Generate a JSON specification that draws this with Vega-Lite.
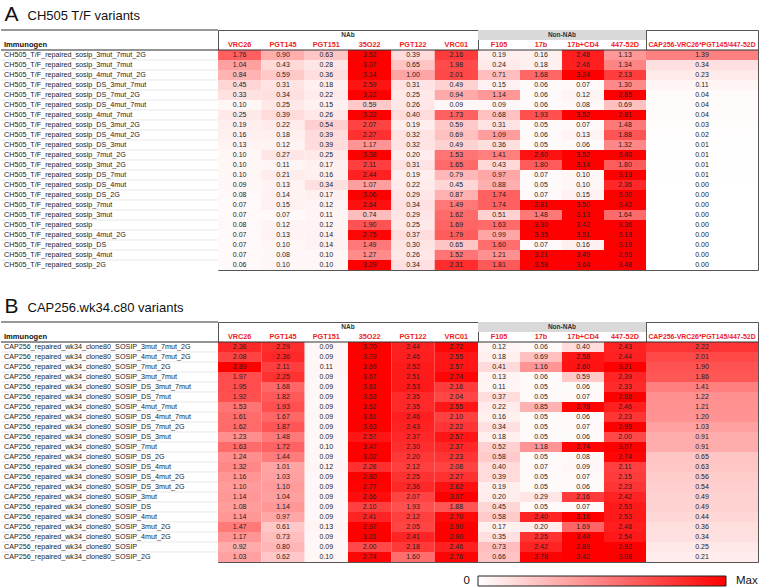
{
"$schema": "https://vega.github.io/schema/vega-lite/v6.json",
"padding": {"top": 3, "left": 0, "right": 0, "bottom": 0},
"config": {"font": "Liberation Sans", "view": {"stroke": "#555555", "strokeWidth": 1}},
"spacing": 24,
"datasets": {
"A": [
{"im":"CH505_T/F_repaired_sosip_3mut_7mut_2G","ab":"VRC26","v":1.76},{"im":"CH505_T/F_repaired_sosip_3mut_7mut_2G","ab":"PGT145","v":0.90},{"im":"CH505_T/F_repaired_sosip_3mut_7mut_2G","ab":"PGT151","v":0.63},{"im":"CH505_T/F_repaired_sosip_3mut_7mut_2G","ab":"35O22","v":3.52},{"im":"CH505_T/F_repaired_sosip_3mut_7mut_2G","ab":"PGT122","v":0.39},{"im":"CH505_T/F_repaired_sosip_3mut_7mut_2G","ab":"VRC01","v":2.16},{"im":"CH505_T/F_repaired_sosip_3mut_7mut_2G","ab":"F105","v":0.19},{"im":"CH505_T/F_repaired_sosip_3mut_7mut_2G","ab":"17b","v":0.16},{"im":"CH505_T/F_repaired_sosip_3mut_7mut_2G","ab":"17b+CD4","v":2.48},{"im":"CH505_T/F_repaired_sosip_3mut_7mut_2G","ab":"447-52D","v":1.13},{"im":"CH505_T/F_repaired_sosip_3mut_7mut_2G","ab":"CAP256-VRC26*PGT145/447-52D","v":1.39},
{"im":"CH505_T/F_repaired_sosip_3mut_7mut","ab":"VRC26","v":1.04},{"im":"CH505_T/F_repaired_sosip_3mut_7mut","ab":"PGT145","v":0.43},{"im":"CH505_T/F_repaired_sosip_3mut_7mut","ab":"PGT151","v":0.28},{"im":"CH505_T/F_repaired_sosip_3mut_7mut","ab":"35O22","v":3.07},{"im":"CH505_T/F_repaired_sosip_3mut_7mut","ab":"PGT122","v":0.65},{"im":"CH505_T/F_repaired_sosip_3mut_7mut","ab":"VRC01","v":1.98},{"im":"CH505_T/F_repaired_sosip_3mut_7mut","ab":"F105","v":0.24},{"im":"CH505_T/F_repaired_sosip_3mut_7mut","ab":"17b","v":0.18},{"im":"CH505_T/F_repaired_sosip_3mut_7mut","ab":"17b+CD4","v":2.46},{"im":"CH505_T/F_repaired_sosip_3mut_7mut","ab":"447-52D","v":1.34},{"im":"CH505_T/F_repaired_sosip_3mut_7mut","ab":"CAP256-VRC26*PGT145/447-52D","v":0.34},
{"im":"CH505_T/F_repaired_sosip_4mut_7mut_2G","ab":"VRC26","v":0.84},{"im":"CH505_T/F_repaired_sosip_4mut_7mut_2G","ab":"PGT145","v":0.59},{"im":"CH505_T/F_repaired_sosip_4mut_7mut_2G","ab":"PGT151","v":0.36},{"im":"CH505_T/F_repaired_sosip_4mut_7mut_2G","ab":"35O22","v":3.14},{"im":"CH505_T/F_repaired_sosip_4mut_7mut_2G","ab":"PGT122","v":1.00},{"im":"CH505_T/F_repaired_sosip_4mut_7mut_2G","ab":"VRC01","v":2.01},{"im":"CH505_T/F_repaired_sosip_4mut_7mut_2G","ab":"F105","v":0.71},{"im":"CH505_T/F_repaired_sosip_4mut_7mut_2G","ab":"17b","v":1.68},{"im":"CH505_T/F_repaired_sosip_4mut_7mut_2G","ab":"17b+CD4","v":3.24},{"im":"CH505_T/F_repaired_sosip_4mut_7mut_2G","ab":"447-52D","v":2.13},{"im":"CH505_T/F_repaired_sosip_4mut_7mut_2G","ab":"CAP256-VRC26*PGT145/447-52D","v":0.23},
{"im":"CH505_T/F_repaired_sosip_DS_3mut_7mut","ab":"VRC26","v":0.45},{"im":"CH505_T/F_repaired_sosip_DS_3mut_7mut","ab":"PGT145","v":0.31},{"im":"CH505_T/F_repaired_sosip_DS_3mut_7mut","ab":"PGT151","v":0.18},{"im":"CH505_T/F_repaired_sosip_DS_3mut_7mut","ab":"35O22","v":2.59},{"im":"CH505_T/F_repaired_sosip_DS_3mut_7mut","ab":"PGT122","v":0.31},{"im":"CH505_T/F_repaired_sosip_DS_3mut_7mut","ab":"VRC01","v":0.49},{"im":"CH505_T/F_repaired_sosip_DS_3mut_7mut","ab":"F105","v":0.15},{"im":"CH505_T/F_repaired_sosip_DS_3mut_7mut","ab":"17b","v":0.06},{"im":"CH505_T/F_repaired_sosip_DS_3mut_7mut","ab":"17b+CD4","v":0.07},{"im":"CH505_T/F_repaired_sosip_DS_3mut_7mut","ab":"447-52D","v":1.30},{"im":"CH505_T/F_repaired_sosip_DS_3mut_7mut","ab":"CAP256-VRC26*PGT145/447-52D","v":0.11},
{"im":"CH505_T/F_repaired_sosip_DS_7mut_2G","ab":"VRC26","v":0.33},{"im":"CH505_T/F_repaired_sosip_DS_7mut_2G","ab":"PGT145","v":0.34},{"im":"CH505_T/F_repaired_sosip_DS_7mut_2G","ab":"PGT151","v":0.22},{"im":"CH505_T/F_repaired_sosip_DS_7mut_2G","ab":"35O22","v":3.22},{"im":"CH505_T/F_repaired_sosip_DS_7mut_2G","ab":"PGT122","v":0.25},{"im":"CH505_T/F_repaired_sosip_DS_7mut_2G","ab":"VRC01","v":0.94},{"im":"CH505_T/F_repaired_sosip_DS_7mut_2G","ab":"F105","v":1.14},{"im":"CH505_T/F_repaired_sosip_DS_7mut_2G","ab":"17b","v":0.06},{"im":"CH505_T/F_repaired_sosip_DS_7mut_2G","ab":"17b+CD4","v":0.12},{"im":"CH505_T/F_repaired_sosip_DS_7mut_2G","ab":"447-52D","v":2.85},{"im":"CH505_T/F_repaired_sosip_DS_7mut_2G","ab":"CAP256-VRC26*PGT145/447-52D","v":0.04},
{"im":"CH505_T/F_repaired_sosip_DS_4mut_7mut","ab":"VRC26","v":0.10},{"im":"CH505_T/F_repaired_sosip_DS_4mut_7mut","ab":"PGT145","v":0.25},{"im":"CH505_T/F_repaired_sosip_DS_4mut_7mut","ab":"PGT151","v":0.15},{"im":"CH505_T/F_repaired_sosip_DS_4mut_7mut","ab":"35O22","v":0.59},{"im":"CH505_T/F_repaired_sosip_DS_4mut_7mut","ab":"PGT122","v":0.26},{"im":"CH505_T/F_repaired_sosip_DS_4mut_7mut","ab":"VRC01","v":0.09},{"im":"CH505_T/F_repaired_sosip_DS_4mut_7mut","ab":"F105","v":0.09},{"im":"CH505_T/F_repaired_sosip_DS_4mut_7mut","ab":"17b","v":0.06},{"im":"CH505_T/F_repaired_sosip_DS_4mut_7mut","ab":"17b+CD4","v":0.08},{"im":"CH505_T/F_repaired_sosip_DS_4mut_7mut","ab":"447-52D","v":0.69},{"im":"CH505_T/F_repaired_sosip_DS_4mut_7mut","ab":"CAP256-VRC26*PGT145/447-52D","v":0.04},
{"im":"CH505_T/F_repaired_sosip_4mut_7mut","ab":"VRC26","v":0.25},{"im":"CH505_T/F_repaired_sosip_4mut_7mut","ab":"PGT145","v":0.39},{"im":"CH505_T/F_repaired_sosip_4mut_7mut","ab":"PGT151","v":0.26},{"im":"CH505_T/F_repaired_sosip_4mut_7mut","ab":"35O22","v":3.22},{"im":"CH505_T/F_repaired_sosip_4mut_7mut","ab":"PGT122","v":0.40},{"im":"CH505_T/F_repaired_sosip_4mut_7mut","ab":"VRC01","v":1.73},{"im":"CH505_T/F_repaired_sosip_4mut_7mut","ab":"F105","v":0.68},{"im":"CH505_T/F_repaired_sosip_4mut_7mut","ab":"17b","v":1.93},{"im":"CH505_T/F_repaired_sosip_4mut_7mut","ab":"17b+CD4","v":3.52},{"im":"CH505_T/F_repaired_sosip_4mut_7mut","ab":"447-52D","v":2.81},{"im":"CH505_T/F_repaired_sosip_4mut_7mut","ab":"CAP256-VRC26*PGT145/447-52D","v":0.04},
{"im":"CH505_T/F_repaired_sosip_DS_3mut_2G","ab":"VRC26","v":0.19},{"im":"CH505_T/F_repaired_sosip_DS_3mut_2G","ab":"PGT145","v":0.22},{"im":"CH505_T/F_repaired_sosip_DS_3mut_2G","ab":"PGT151","v":0.54},{"im":"CH505_T/F_repaired_sosip_DS_3mut_2G","ab":"35O22","v":2.07},{"im":"CH505_T/F_repaired_sosip_DS_3mut_2G","ab":"PGT122","v":0.19},{"im":"CH505_T/F_repaired_sosip_DS_3mut_2G","ab":"VRC01","v":0.59},{"im":"CH505_T/F_repaired_sosip_DS_3mut_2G","ab":"F105","v":0.31},{"im":"CH505_T/F_repaired_sosip_DS_3mut_2G","ab":"17b","v":0.05},{"im":"CH505_T/F_repaired_sosip_DS_3mut_2G","ab":"17b+CD4","v":0.07},{"im":"CH505_T/F_repaired_sosip_DS_3mut_2G","ab":"447-52D","v":1.48},{"im":"CH505_T/F_repaired_sosip_DS_3mut_2G","ab":"CAP256-VRC26*PGT145/447-52D","v":0.03},
{"im":"CH505_T/F_repaired_sosip_DS_4mut_2G","ab":"VRC26","v":0.16},{"im":"CH505_T/F_repaired_sosip_DS_4mut_2G","ab":"PGT145","v":0.18},{"im":"CH505_T/F_repaired_sosip_DS_4mut_2G","ab":"PGT151","v":0.39},{"im":"CH505_T/F_repaired_sosip_DS_4mut_2G","ab":"35O22","v":2.27},{"im":"CH505_T/F_repaired_sosip_DS_4mut_2G","ab":"PGT122","v":0.32},{"im":"CH505_T/F_repaired_sosip_DS_4mut_2G","ab":"VRC01","v":0.69},{"im":"CH505_T/F_repaired_sosip_DS_4mut_2G","ab":"F105","v":1.09},{"im":"CH505_T/F_repaired_sosip_DS_4mut_2G","ab":"17b","v":0.06},{"im":"CH505_T/F_repaired_sosip_DS_4mut_2G","ab":"17b+CD4","v":0.13},{"im":"CH505_T/F_repaired_sosip_DS_4mut_2G","ab":"447-52D","v":1.88},{"im":"CH505_T/F_repaired_sosip_DS_4mut_2G","ab":"CAP256-VRC26*PGT145/447-52D","v":0.02},
{"im":"CH505_T/F_repaired_sosip_DS_3mut","ab":"VRC26","v":0.13},{"im":"CH505_T/F_repaired_sosip_DS_3mut","ab":"PGT145","v":0.12},{"im":"CH505_T/F_repaired_sosip_DS_3mut","ab":"PGT151","v":0.39},{"im":"CH505_T/F_repaired_sosip_DS_3mut","ab":"35O22","v":1.17},{"im":"CH505_T/F_repaired_sosip_DS_3mut","ab":"PGT122","v":0.32},{"im":"CH505_T/F_repaired_sosip_DS_3mut","ab":"VRC01","v":0.49},{"im":"CH505_T/F_repaired_sosip_DS_3mut","ab":"F105","v":0.36},{"im":"CH505_T/F_repaired_sosip_DS_3mut","ab":"17b","v":0.05},{"im":"CH505_T/F_repaired_sosip_DS_3mut","ab":"17b+CD4","v":0.06},{"im":"CH505_T/F_repaired_sosip_DS_3mut","ab":"447-52D","v":1.32},{"im":"CH505_T/F_repaired_sosip_DS_3mut","ab":"CAP256-VRC26*PGT145/447-52D","v":0.01},
{"im":"CH505_T/F_repaired_sosip_7mut_2G","ab":"VRC26","v":0.10},{"im":"CH505_T/F_repaired_sosip_7mut_2G","ab":"PGT145","v":0.27},{"im":"CH505_T/F_repaired_sosip_7mut_2G","ab":"PGT151","v":0.25},{"im":"CH505_T/F_repaired_sosip_7mut_2G","ab":"35O22","v":3.38},{"im":"CH505_T/F_repaired_sosip_7mut_2G","ab":"PGT122","v":0.20},{"im":"CH505_T/F_repaired_sosip_7mut_2G","ab":"VRC01","v":1.53},{"im":"CH505_T/F_repaired_sosip_7mut_2G","ab":"F105","v":1.41},{"im":"CH505_T/F_repaired_sosip_7mut_2G","ab":"17b","v":2.60},{"im":"CH505_T/F_repaired_sosip_7mut_2G","ab":"17b+CD4","v":3.52},{"im":"CH505_T/F_repaired_sosip_7mut_2G","ab":"447-52D","v":3.40},{"im":"CH505_T/F_repaired_sosip_7mut_2G","ab":"CAP256-VRC26*PGT145/447-52D","v":0.01},
{"im":"CH505_T/F_repaired_sosip_3mut_2G","ab":"VRC26","v":0.10},{"im":"CH505_T/F_repaired_sosip_3mut_2G","ab":"PGT145","v":0.11},{"im":"CH505_T/F_repaired_sosip_3mut_2G","ab":"PGT151","v":0.17},{"im":"CH505_T/F_repaired_sosip_3mut_2G","ab":"35O22","v":2.11},{"im":"CH505_T/F_repaired_sosip_3mut_2G","ab":"PGT122","v":0.31},{"im":"CH505_T/F_repaired_sosip_3mut_2G","ab":"VRC01","v":1.65},{"im":"CH505_T/F_repaired_sosip_3mut_2G","ab":"F105","v":0.43},{"im":"CH505_T/F_repaired_sosip_3mut_2G","ab":"17b","v":1.80},{"im":"CH505_T/F_repaired_sosip_3mut_2G","ab":"17b+CD4","v":3.14},{"im":"CH505_T/F_repaired_sosip_3mut_2G","ab":"447-52D","v":1.80},{"im":"CH505_T/F_repaired_sosip_3mut_2G","ab":"CAP256-VRC26*PGT145/447-52D","v":0.01},
{"im":"CH505_T/F_repaired_sosip_DS_7mut","ab":"VRC26","v":0.10},{"im":"CH505_T/F_repaired_sosip_DS_7mut","ab":"PGT145","v":0.21},{"im":"CH505_T/F_repaired_sosip_DS_7mut","ab":"PGT151","v":0.16},{"im":"CH505_T/F_repaired_sosip_DS_7mut","ab":"35O22","v":2.44},{"im":"CH505_T/F_repaired_sosip_DS_7mut","ab":"PGT122","v":0.19},{"im":"CH505_T/F_repaired_sosip_DS_7mut","ab":"VRC01","v":0.79},{"im":"CH505_T/F_repaired_sosip_DS_7mut","ab":"F105","v":0.97},{"im":"CH505_T/F_repaired_sosip_DS_7mut","ab":"17b","v":0.07},{"im":"CH505_T/F_repaired_sosip_DS_7mut","ab":"17b+CD4","v":0.10},{"im":"CH505_T/F_repaired_sosip_DS_7mut","ab":"447-52D","v":3.13},{"im":"CH505_T/F_repaired_sosip_DS_7mut","ab":"CAP256-VRC26*PGT145/447-52D","v":0.01},
{"im":"CH505_T/F_repaired_sosip_DS_4mut","ab":"VRC26","v":0.09},{"im":"CH505_T/F_repaired_sosip_DS_4mut","ab":"PGT145","v":0.13},{"im":"CH505_T/F_repaired_sosip_DS_4mut","ab":"PGT151","v":0.34},{"im":"CH505_T/F_repaired_sosip_DS_4mut","ab":"35O22","v":1.07},{"im":"CH505_T/F_repaired_sosip_DS_4mut","ab":"PGT122","v":0.22},{"im":"CH505_T/F_repaired_sosip_DS_4mut","ab":"VRC01","v":0.45},{"im":"CH505_T/F_repaired_sosip_DS_4mut","ab":"F105","v":0.88},{"im":"CH505_T/F_repaired_sosip_DS_4mut","ab":"17b","v":0.05},{"im":"CH505_T/F_repaired_sosip_DS_4mut","ab":"17b+CD4","v":0.10},{"im":"CH505_T/F_repaired_sosip_DS_4mut","ab":"447-52D","v":2.36},{"im":"CH505_T/F_repaired_sosip_DS_4mut","ab":"CAP256-VRC26*PGT145/447-52D","v":0.00},
{"im":"CH505_T/F_repaired_sosip_DS_2G","ab":"VRC26","v":0.08},{"im":"CH505_T/F_repaired_sosip_DS_2G","ab":"PGT145","v":0.14},{"im":"CH505_T/F_repaired_sosip_DS_2G","ab":"PGT151","v":0.17},{"im":"CH505_T/F_repaired_sosip_DS_2G","ab":"35O22","v":3.06},{"im":"CH505_T/F_repaired_sosip_DS_2G","ab":"PGT122","v":0.29},{"im":"CH505_T/F_repaired_sosip_DS_2G","ab":"VRC01","v":0.87},{"im":"CH505_T/F_repaired_sosip_DS_2G","ab":"F105","v":1.74},{"im":"CH505_T/F_repaired_sosip_DS_2G","ab":"17b","v":0.07},{"im":"CH505_T/F_repaired_sosip_DS_2G","ab":"17b+CD4","v":0.15},{"im":"CH505_T/F_repaired_sosip_DS_2G","ab":"447-52D","v":3.30},{"im":"CH505_T/F_repaired_sosip_DS_2G","ab":"CAP256-VRC26*PGT145/447-52D","v":0.00},
{"im":"CH505_T/F_repaired_sosip_7mut","ab":"VRC26","v":0.07},{"im":"CH505_T/F_repaired_sosip_7mut","ab":"PGT145","v":0.15},{"im":"CH505_T/F_repaired_sosip_7mut","ab":"PGT151","v":0.12},{"im":"CH505_T/F_repaired_sosip_7mut","ab":"35O22","v":2.64},{"im":"CH505_T/F_repaired_sosip_7mut","ab":"PGT122","v":0.34},{"im":"CH505_T/F_repaired_sosip_7mut","ab":"VRC01","v":1.49},{"im":"CH505_T/F_repaired_sosip_7mut","ab":"F105","v":1.74},{"im":"CH505_T/F_repaired_sosip_7mut","ab":"17b","v":2.81},{"im":"CH505_T/F_repaired_sosip_7mut","ab":"17b+CD4","v":3.50},{"im":"CH505_T/F_repaired_sosip_7mut","ab":"447-52D","v":3.42},{"im":"CH505_T/F_repaired_sosip_7mut","ab":"CAP256-VRC26*PGT145/447-52D","v":0.00},
{"im":"CH505_T/F_repaired_sosip_3mut","ab":"VRC26","v":0.07},{"im":"CH505_T/F_repaired_sosip_3mut","ab":"PGT145","v":0.07},{"im":"CH505_T/F_repaired_sosip_3mut","ab":"PGT151","v":0.11},{"im":"CH505_T/F_repaired_sosip_3mut","ab":"35O22","v":0.74},{"im":"CH505_T/F_repaired_sosip_3mut","ab":"PGT122","v":0.29},{"im":"CH505_T/F_repaired_sosip_3mut","ab":"VRC01","v":1.62},{"im":"CH505_T/F_repaired_sosip_3mut","ab":"F105","v":0.51},{"im":"CH505_T/F_repaired_sosip_3mut","ab":"17b","v":1.48},{"im":"CH505_T/F_repaired_sosip_3mut","ab":"17b+CD4","v":3.13},{"im":"CH505_T/F_repaired_sosip_3mut","ab":"447-52D","v":1.64},{"im":"CH505_T/F_repaired_sosip_3mut","ab":"CAP256-VRC26*PGT145/447-52D","v":0.00},
{"im":"CH505_T/F_repaired_sosip","ab":"VRC26","v":0.08},{"im":"CH505_T/F_repaired_sosip","ab":"PGT145","v":0.12},{"im":"CH505_T/F_repaired_sosip","ab":"PGT151","v":0.12},{"im":"CH505_T/F_repaired_sosip","ab":"35O22","v":1.90},{"im":"CH505_T/F_repaired_sosip","ab":"PGT122","v":0.25},{"im":"CH505_T/F_repaired_sosip","ab":"VRC01","v":1.69},{"im":"CH505_T/F_repaired_sosip","ab":"F105","v":1.63},{"im":"CH505_T/F_repaired_sosip","ab":"17b","v":3.30},{"im":"CH505_T/F_repaired_sosip","ab":"17b+CD4","v":3.42},{"im":"CH505_T/F_repaired_sosip","ab":"447-52D","v":3.36},{"im":"CH505_T/F_repaired_sosip","ab":"CAP256-VRC26*PGT145/447-52D","v":0.00},
{"im":"CH505_T/F_repaired_sosip_4mut_2G","ab":"VRC26","v":0.07},{"im":"CH505_T/F_repaired_sosip_4mut_2G","ab":"PGT145","v":0.13},{"im":"CH505_T/F_repaired_sosip_4mut_2G","ab":"PGT151","v":0.14},{"im":"CH505_T/F_repaired_sosip_4mut_2G","ab":"35O22","v":2.75},{"im":"CH505_T/F_repaired_sosip_4mut_2G","ab":"PGT122","v":0.37},{"im":"CH505_T/F_repaired_sosip_4mut_2G","ab":"VRC01","v":1.79},{"im":"CH505_T/F_repaired_sosip_4mut_2G","ab":"F105","v":0.99},{"im":"CH505_T/F_repaired_sosip_4mut_2G","ab":"17b","v":3.35},{"im":"CH505_T/F_repaired_sosip_4mut_2G","ab":"17b+CD4","v":3.51},{"im":"CH505_T/F_repaired_sosip_4mut_2G","ab":"447-52D","v":3.13},{"im":"CH505_T/F_repaired_sosip_4mut_2G","ab":"CAP256-VRC26*PGT145/447-52D","v":0.00},
{"im":"CH505_T/F_repaired_sosip_DS","ab":"VRC26","v":0.07},{"im":"CH505_T/F_repaired_sosip_DS","ab":"PGT145","v":0.10},{"im":"CH505_T/F_repaired_sosip_DS","ab":"PGT151","v":0.14},{"im":"CH505_T/F_repaired_sosip_DS","ab":"35O22","v":1.49},{"im":"CH505_T/F_repaired_sosip_DS","ab":"PGT122","v":0.30},{"im":"CH505_T/F_repaired_sosip_DS","ab":"VRC01","v":0.65},{"im":"CH505_T/F_repaired_sosip_DS","ab":"F105","v":1.60},{"im":"CH505_T/F_repaired_sosip_DS","ab":"17b","v":0.07},{"im":"CH505_T/F_repaired_sosip_DS","ab":"17b+CD4","v":0.16},{"im":"CH505_T/F_repaired_sosip_DS","ab":"447-52D","v":3.19},{"im":"CH505_T/F_repaired_sosip_DS","ab":"CAP256-VRC26*PGT145/447-52D","v":0.00},
{"im":"CH505_T/F_repaired_sosip_4mut","ab":"VRC26","v":0.07},{"im":"CH505_T/F_repaired_sosip_4mut","ab":"PGT145","v":0.08},{"im":"CH505_T/F_repaired_sosip_4mut","ab":"PGT151","v":0.10},{"im":"CH505_T/F_repaired_sosip_4mut","ab":"35O22","v":1.27},{"im":"CH505_T/F_repaired_sosip_4mut","ab":"PGT122","v":0.26},{"im":"CH505_T/F_repaired_sosip_4mut","ab":"VRC01","v":1.52},{"im":"CH505_T/F_repaired_sosip_4mut","ab":"F105","v":1.21},{"im":"CH505_T/F_repaired_sosip_4mut","ab":"17b","v":3.21},{"im":"CH505_T/F_repaired_sosip_4mut","ab":"17b+CD4","v":3.49},{"im":"CH505_T/F_repaired_sosip_4mut","ab":"447-52D","v":2.93},{"im":"CH505_T/F_repaired_sosip_4mut","ab":"CAP256-VRC26*PGT145/447-52D","v":0.00},
{"im":"CH505_T/F_repaired_sosip_2G","ab":"VRC26","v":0.06},{"im":"CH505_T/F_repaired_sosip_2G","ab":"PGT145","v":0.10},{"im":"CH505_T/F_repaired_sosip_2G","ab":"PGT151","v":0.10},{"im":"CH505_T/F_repaired_sosip_2G","ab":"35O22","v":3.29},{"im":"CH505_T/F_repaired_sosip_2G","ab":"PGT122","v":0.34},{"im":"CH505_T/F_repaired_sosip_2G","ab":"VRC01","v":2.31},{"im":"CH505_T/F_repaired_sosip_2G","ab":"F105","v":1.81},{"im":"CH505_T/F_repaired_sosip_2G","ab":"17b","v":3.58},{"im":"CH505_T/F_repaired_sosip_2G","ab":"17b+CD4","v":3.64},{"im":"CH505_T/F_repaired_sosip_2G","ab":"447-52D","v":3.48},{"im":"CH505_T/F_repaired_sosip_2G","ab":"CAP256-VRC26*PGT145/447-52D","v":0.00}
],
"B": [
{"im":"CAP256_repaired_wk34_clone80_SOSIP_3mut_7mut_2G","ab":"VRC26","v":2.36},{"im":"CAP256_repaired_wk34_clone80_SOSIP_3mut_7mut_2G","ab":"PGT145","v":2.29},{"im":"CAP256_repaired_wk34_clone80_SOSIP_3mut_7mut_2G","ab":"PGT151","v":0.09},{"im":"CAP256_repaired_wk34_clone80_SOSIP_3mut_7mut_2G","ab":"35O22","v":3.70},{"im":"CAP256_repaired_wk34_clone80_SOSIP_3mut_7mut_2G","ab":"PGT122","v":2.44},{"im":"CAP256_repaired_wk34_clone80_SOSIP_3mut_7mut_2G","ab":"VRC01","v":2.72},{"im":"CAP256_repaired_wk34_clone80_SOSIP_3mut_7mut_2G","ab":"F105","v":0.12},{"im":"CAP256_repaired_wk34_clone80_SOSIP_3mut_7mut_2G","ab":"17b","v":0.06},{"im":"CAP256_repaired_wk34_clone80_SOSIP_3mut_7mut_2G","ab":"17b+CD4","v":0.40},{"im":"CAP256_repaired_wk34_clone80_SOSIP_3mut_7mut_2G","ab":"447-52D","v":2.43},{"im":"CAP256_repaired_wk34_clone80_SOSIP_3mut_7mut_2G","ab":"CAP256-VRC26*PGT145/447-52D","v":2.22},
{"im":"CAP256_repaired_wk34_clone80_SOSIP_4mut_7mut_2G","ab":"VRC26","v":2.08},{"im":"CAP256_repaired_wk34_clone80_SOSIP_4mut_7mut_2G","ab":"PGT145","v":2.36},{"im":"CAP256_repaired_wk34_clone80_SOSIP_4mut_7mut_2G","ab":"PGT151","v":0.09},{"im":"CAP256_repaired_wk34_clone80_SOSIP_4mut_7mut_2G","ab":"35O22","v":3.79},{"im":"CAP256_repaired_wk34_clone80_SOSIP_4mut_7mut_2G","ab":"PGT122","v":2.46},{"im":"CAP256_repaired_wk34_clone80_SOSIP_4mut_7mut_2G","ab":"VRC01","v":2.55},{"im":"CAP256_repaired_wk34_clone80_SOSIP_4mut_7mut_2G","ab":"F105","v":0.18},{"im":"CAP256_repaired_wk34_clone80_SOSIP_4mut_7mut_2G","ab":"17b","v":0.69},{"im":"CAP256_repaired_wk34_clone80_SOSIP_4mut_7mut_2G","ab":"17b+CD4","v":2.58},{"im":"CAP256_repaired_wk34_clone80_SOSIP_4mut_7mut_2G","ab":"447-52D","v":2.44},{"im":"CAP256_repaired_wk34_clone80_SOSIP_4mut_7mut_2G","ab":"CAP256-VRC26*PGT145/447-52D","v":2.01},
{"im":"CAP256_repaired_wk34_clone80_SOSIP_7mut_2G","ab":"VRC26","v":2.89},{"im":"CAP256_repaired_wk34_clone80_SOSIP_7mut_2G","ab":"PGT145","v":2.11},{"im":"CAP256_repaired_wk34_clone80_SOSIP_7mut_2G","ab":"PGT151","v":0.11},{"im":"CAP256_repaired_wk34_clone80_SOSIP_7mut_2G","ab":"35O22","v":3.69},{"im":"CAP256_repaired_wk34_clone80_SOSIP_7mut_2G","ab":"PGT122","v":2.52},{"im":"CAP256_repaired_wk34_clone80_SOSIP_7mut_2G","ab":"VRC01","v":2.57},{"im":"CAP256_repaired_wk34_clone80_SOSIP_7mut_2G","ab":"F105","v":0.41},{"im":"CAP256_repaired_wk34_clone80_SOSIP_7mut_2G","ab":"17b","v":1.16},{"im":"CAP256_repaired_wk34_clone80_SOSIP_7mut_2G","ab":"17b+CD4","v":2.60},{"im":"CAP256_repaired_wk34_clone80_SOSIP_7mut_2G","ab":"447-52D","v":3.21},{"im":"CAP256_repaired_wk34_clone80_SOSIP_7mut_2G","ab":"CAP256-VRC26*PGT145/447-52D","v":1.90},
{"im":"CAP256_repaired_wk34_clone80_SOSIP_3mut_7mut","ab":"VRC26","v":1.97},{"im":"CAP256_repaired_wk34_clone80_SOSIP_3mut_7mut","ab":"PGT145","v":2.25},{"im":"CAP256_repaired_wk34_clone80_SOSIP_3mut_7mut","ab":"PGT151","v":0.09},{"im":"CAP256_repaired_wk34_clone80_SOSIP_3mut_7mut","ab":"35O22","v":3.67},{"im":"CAP256_repaired_wk34_clone80_SOSIP_3mut_7mut","ab":"PGT122","v":2.51},{"im":"CAP256_repaired_wk34_clone80_SOSIP_3mut_7mut","ab":"VRC01","v":2.74},{"im":"CAP256_repaired_wk34_clone80_SOSIP_3mut_7mut","ab":"F105","v":0.13},{"im":"CAP256_repaired_wk34_clone80_SOSIP_3mut_7mut","ab":"17b","v":0.06},{"im":"CAP256_repaired_wk34_clone80_SOSIP_3mut_7mut","ab":"17b+CD4","v":0.59},{"im":"CAP256_repaired_wk34_clone80_SOSIP_3mut_7mut","ab":"447-52D","v":2.39},{"im":"CAP256_repaired_wk34_clone80_SOSIP_3mut_7mut","ab":"CAP256-VRC26*PGT145/447-52D","v":1.86},
{"im":"CAP256_repaired_wk34_clone80_SOSIP_DS_3mut_7mut","ab":"VRC26","v":1.95},{"im":"CAP256_repaired_wk34_clone80_SOSIP_DS_3mut_7mut","ab":"PGT145","v":1.68},{"im":"CAP256_repaired_wk34_clone80_SOSIP_DS_3mut_7mut","ab":"PGT151","v":0.09},{"im":"CAP256_repaired_wk34_clone80_SOSIP_DS_3mut_7mut","ab":"35O22","v":3.61},{"im":"CAP256_repaired_wk34_clone80_SOSIP_DS_3mut_7mut","ab":"PGT122","v":2.53},{"im":"CAP256_repaired_wk34_clone80_SOSIP_DS_3mut_7mut","ab":"VRC01","v":2.16},{"im":"CAP256_repaired_wk34_clone80_SOSIP_DS_3mut_7mut","ab":"F105","v":0.11},{"im":"CAP256_repaired_wk34_clone80_SOSIP_DS_3mut_7mut","ab":"17b","v":0.05},{"im":"CAP256_repaired_wk34_clone80_SOSIP_DS_3mut_7mut","ab":"17b+CD4","v":0.06},{"im":"CAP256_repaired_wk34_clone80_SOSIP_DS_3mut_7mut","ab":"447-52D","v":2.33},{"im":"CAP256_repaired_wk34_clone80_SOSIP_DS_3mut_7mut","ab":"CAP256-VRC26*PGT145/447-52D","v":1.41},
{"im":"CAP256_repaired_wk34_clone80_SOSIP_DS_7mut","ab":"VRC26","v":1.92},{"im":"CAP256_repaired_wk34_clone80_SOSIP_DS_7mut","ab":"PGT145","v":1.82},{"im":"CAP256_repaired_wk34_clone80_SOSIP_DS_7mut","ab":"PGT151","v":0.09},{"im":"CAP256_repaired_wk34_clone80_SOSIP_DS_7mut","ab":"35O22","v":3.63},{"im":"CAP256_repaired_wk34_clone80_SOSIP_DS_7mut","ab":"PGT122","v":2.35},{"im":"CAP256_repaired_wk34_clone80_SOSIP_DS_7mut","ab":"VRC01","v":2.04},{"im":"CAP256_repaired_wk34_clone80_SOSIP_DS_7mut","ab":"F105","v":0.37},{"im":"CAP256_repaired_wk34_clone80_SOSIP_DS_7mut","ab":"17b","v":0.05},{"im":"CAP256_repaired_wk34_clone80_SOSIP_DS_7mut","ab":"17b+CD4","v":0.07},{"im":"CAP256_repaired_wk34_clone80_SOSIP_DS_7mut","ab":"447-52D","v":2.86},{"im":"CAP256_repaired_wk34_clone80_SOSIP_DS_7mut","ab":"CAP256-VRC26*PGT145/447-52D","v":1.22},
{"im":"CAP256_repaired_wk34_clone80_SOSIP_4mut_7mut","ab":"VRC26","v":1.53},{"im":"CAP256_repaired_wk34_clone80_SOSIP_4mut_7mut","ab":"PGT145","v":1.93},{"im":"CAP256_repaired_wk34_clone80_SOSIP_4mut_7mut","ab":"PGT151","v":0.09},{"im":"CAP256_repaired_wk34_clone80_SOSIP_4mut_7mut","ab":"35O22","v":3.52},{"im":"CAP256_repaired_wk34_clone80_SOSIP_4mut_7mut","ab":"PGT122","v":2.35},{"im":"CAP256_repaired_wk34_clone80_SOSIP_4mut_7mut","ab":"VRC01","v":2.55},{"im":"CAP256_repaired_wk34_clone80_SOSIP_4mut_7mut","ab":"F105","v":0.22},{"im":"CAP256_repaired_wk34_clone80_SOSIP_4mut_7mut","ab":"17b","v":0.85},{"im":"CAP256_repaired_wk34_clone80_SOSIP_4mut_7mut","ab":"17b+CD4","v":2.78},{"im":"CAP256_repaired_wk34_clone80_SOSIP_4mut_7mut","ab":"447-52D","v":2.46},{"im":"CAP256_repaired_wk34_clone80_SOSIP_4mut_7mut","ab":"CAP256-VRC26*PGT145/447-52D","v":1.21},
{"im":"CAP256_repaired_wk34_clone80_SOSIP_DS_4mut_7mut","ab":"VRC26","v":1.61},{"im":"CAP256_repaired_wk34_clone80_SOSIP_DS_4mut_7mut","ab":"PGT145","v":1.67},{"im":"CAP256_repaired_wk34_clone80_SOSIP_DS_4mut_7mut","ab":"PGT151","v":0.09},{"im":"CAP256_repaired_wk34_clone80_SOSIP_DS_4mut_7mut","ab":"35O22","v":3.61},{"im":"CAP256_repaired_wk34_clone80_SOSIP_DS_4mut_7mut","ab":"PGT122","v":2.46},{"im":"CAP256_repaired_wk34_clone80_SOSIP_DS_4mut_7mut","ab":"VRC01","v":2.10},{"im":"CAP256_repaired_wk34_clone80_SOSIP_DS_4mut_7mut","ab":"F105","v":0.16},{"im":"CAP256_repaired_wk34_clone80_SOSIP_DS_4mut_7mut","ab":"17b","v":0.05},{"im":"CAP256_repaired_wk34_clone80_SOSIP_DS_4mut_7mut","ab":"17b+CD4","v":0.06},{"im":"CAP256_repaired_wk34_clone80_SOSIP_DS_4mut_7mut","ab":"447-52D","v":2.23},{"im":"CAP256_repaired_wk34_clone80_SOSIP_DS_4mut_7mut","ab":"CAP256-VRC26*PGT145/447-52D","v":1.20},
{"im":"CAP256_repaired_wk34_clone80_SOSIP_DS_7mut_2G","ab":"VRC26","v":1.62},{"im":"CAP256_repaired_wk34_clone80_SOSIP_DS_7mut_2G","ab":"PGT145","v":1.87},{"im":"CAP256_repaired_wk34_clone80_SOSIP_DS_7mut_2G","ab":"PGT151","v":0.09},{"im":"CAP256_repaired_wk34_clone80_SOSIP_DS_7mut_2G","ab":"35O22","v":3.63},{"im":"CAP256_repaired_wk34_clone80_SOSIP_DS_7mut_2G","ab":"PGT122","v":2.43},{"im":"CAP256_repaired_wk34_clone80_SOSIP_DS_7mut_2G","ab":"VRC01","v":2.22},{"im":"CAP256_repaired_wk34_clone80_SOSIP_DS_7mut_2G","ab":"F105","v":0.34},{"im":"CAP256_repaired_wk34_clone80_SOSIP_DS_7mut_2G","ab":"17b","v":0.05},{"im":"CAP256_repaired_wk34_clone80_SOSIP_DS_7mut_2G","ab":"17b+CD4","v":0.07},{"im":"CAP256_repaired_wk34_clone80_SOSIP_DS_7mut_2G","ab":"447-52D","v":2.95},{"im":"CAP256_repaired_wk34_clone80_SOSIP_DS_7mut_2G","ab":"CAP256-VRC26*PGT145/447-52D","v":1.03},
{"im":"CAP256_repaired_wk34_clone80_SOSIP_DS_3mut","ab":"VRC26","v":1.23},{"im":"CAP256_repaired_wk34_clone80_SOSIP_DS_3mut","ab":"PGT145","v":1.48},{"im":"CAP256_repaired_wk34_clone80_SOSIP_DS_3mut","ab":"PGT151","v":0.09},{"im":"CAP256_repaired_wk34_clone80_SOSIP_DS_3mut","ab":"35O22","v":2.57},{"im":"CAP256_repaired_wk34_clone80_SOSIP_DS_3mut","ab":"PGT122","v":2.37},{"im":"CAP256_repaired_wk34_clone80_SOSIP_DS_3mut","ab":"VRC01","v":2.57},{"im":"CAP256_repaired_wk34_clone80_SOSIP_DS_3mut","ab":"F105","v":0.18},{"im":"CAP256_repaired_wk34_clone80_SOSIP_DS_3mut","ab":"17b","v":0.05},{"im":"CAP256_repaired_wk34_clone80_SOSIP_DS_3mut","ab":"17b+CD4","v":0.06},{"im":"CAP256_repaired_wk34_clone80_SOSIP_DS_3mut","ab":"447-52D","v":2.00},{"im":"CAP256_repaired_wk34_clone80_SOSIP_DS_3mut","ab":"CAP256-VRC26*PGT145/447-52D","v":0.91},
{"im":"CAP256_repaired_wk34_clone80_SOSIP_7mut","ab":"VRC26","v":1.63},{"im":"CAP256_repaired_wk34_clone80_SOSIP_7mut","ab":"PGT145","v":1.72},{"im":"CAP256_repaired_wk34_clone80_SOSIP_7mut","ab":"PGT151","v":0.10},{"im":"CAP256_repaired_wk34_clone80_SOSIP_7mut","ab":"35O22","v":3.47},{"im":"CAP256_repaired_wk34_clone80_SOSIP_7mut","ab":"PGT122","v":2.30},{"im":"CAP256_repaired_wk34_clone80_SOSIP_7mut","ab":"VRC01","v":2.37},{"im":"CAP256_repaired_wk34_clone80_SOSIP_7mut","ab":"F105","v":0.52},{"im":"CAP256_repaired_wk34_clone80_SOSIP_7mut","ab":"17b","v":1.18},{"im":"CAP256_repaired_wk34_clone80_SOSIP_7mut","ab":"17b+CD4","v":2.74},{"im":"CAP256_repaired_wk34_clone80_SOSIP_7mut","ab":"447-52D","v":3.07},{"im":"CAP256_repaired_wk34_clone80_SOSIP_7mut","ab":"CAP256-VRC26*PGT145/447-52D","v":0.91},
{"im":"CAP256_repaired_wk34_clone80_SOSIP_DS_2G","ab":"VRC26","v":1.24},{"im":"CAP256_repaired_wk34_clone80_SOSIP_DS_2G","ab":"PGT145","v":1.44},{"im":"CAP256_repaired_wk34_clone80_SOSIP_DS_2G","ab":"PGT151","v":0.09},{"im":"CAP256_repaired_wk34_clone80_SOSIP_DS_2G","ab":"35O22","v":3.02},{"im":"CAP256_repaired_wk34_clone80_SOSIP_DS_2G","ab":"PGT122","v":2.20},{"im":"CAP256_repaired_wk34_clone80_SOSIP_DS_2G","ab":"VRC01","v":2.23},{"im":"CAP256_repaired_wk34_clone80_SOSIP_DS_2G","ab":"F105","v":0.58},{"im":"CAP256_repaired_wk34_clone80_SOSIP_DS_2G","ab":"17b","v":0.05},{"im":"CAP256_repaired_wk34_clone80_SOSIP_DS_2G","ab":"17b+CD4","v":0.08},{"im":"CAP256_repaired_wk34_clone80_SOSIP_DS_2G","ab":"447-52D","v":2.74},{"im":"CAP256_repaired_wk34_clone80_SOSIP_DS_2G","ab":"CAP256-VRC26*PGT145/447-52D","v":0.65},
{"im":"CAP256_repaired_wk34_clone80_SOSIP_DS_4mut","ab":"VRC26","v":1.32},{"im":"CAP256_repaired_wk34_clone80_SOSIP_DS_4mut","ab":"PGT145","v":1.01},{"im":"CAP256_repaired_wk34_clone80_SOSIP_DS_4mut","ab":"PGT151","v":0.12},{"im":"CAP256_repaired_wk34_clone80_SOSIP_DS_4mut","ab":"35O22","v":2.28},{"im":"CAP256_repaired_wk34_clone80_SOSIP_DS_4mut","ab":"PGT122","v":2.12},{"im":"CAP256_repaired_wk34_clone80_SOSIP_DS_4mut","ab":"VRC01","v":2.08},{"im":"CAP256_repaired_wk34_clone80_SOSIP_DS_4mut","ab":"F105","v":0.40},{"im":"CAP256_repaired_wk34_clone80_SOSIP_DS_4mut","ab":"17b","v":0.07},{"im":"CAP256_repaired_wk34_clone80_SOSIP_DS_4mut","ab":"17b+CD4","v":0.09},{"im":"CAP256_repaired_wk34_clone80_SOSIP_DS_4mut","ab":"447-52D","v":2.11},{"im":"CAP256_repaired_wk34_clone80_SOSIP_DS_4mut","ab":"CAP256-VRC26*PGT145/447-52D","v":0.63},
{"im":"CAP256_repaired_wk34_clone80_SOSIP_DS_4mut_2G","ab":"VRC26","v":1.16},{"im":"CAP256_repaired_wk34_clone80_SOSIP_DS_4mut_2G","ab":"PGT145","v":1.03},{"im":"CAP256_repaired_wk34_clone80_SOSIP_DS_4mut_2G","ab":"PGT151","v":0.09},{"im":"CAP256_repaired_wk34_clone80_SOSIP_DS_4mut_2G","ab":"35O22","v":2.80},{"im":"CAP256_repaired_wk34_clone80_SOSIP_DS_4mut_2G","ab":"PGT122","v":2.25},{"im":"CAP256_repaired_wk34_clone80_SOSIP_DS_4mut_2G","ab":"VRC01","v":2.27},{"im":"CAP256_repaired_wk34_clone80_SOSIP_DS_4mut_2G","ab":"F105","v":0.39},{"im":"CAP256_repaired_wk34_clone80_SOSIP_DS_4mut_2G","ab":"17b","v":0.05},{"im":"CAP256_repaired_wk34_clone80_SOSIP_DS_4mut_2G","ab":"17b+CD4","v":0.07},{"im":"CAP256_repaired_wk34_clone80_SOSIP_DS_4mut_2G","ab":"447-52D","v":2.15},{"im":"CAP256_repaired_wk34_clone80_SOSIP_DS_4mut_2G","ab":"CAP256-VRC26*PGT145/447-52D","v":0.56},
{"im":"CAP256_repaired_wk34_clone80_SOSIP_DS_3mut_2G","ab":"VRC26","v":1.10},{"im":"CAP256_repaired_wk34_clone80_SOSIP_DS_3mut_2G","ab":"PGT145","v":1.10},{"im":"CAP256_repaired_wk34_clone80_SOSIP_DS_3mut_2G","ab":"PGT151","v":0.09},{"im":"CAP256_repaired_wk34_clone80_SOSIP_DS_3mut_2G","ab":"35O22","v":2.77},{"im":"CAP256_repaired_wk34_clone80_SOSIP_DS_3mut_2G","ab":"PGT122","v":2.36},{"im":"CAP256_repaired_wk34_clone80_SOSIP_DS_3mut_2G","ab":"VRC01","v":2.62},{"im":"CAP256_repaired_wk34_clone80_SOSIP_DS_3mut_2G","ab":"F105","v":0.19},{"im":"CAP256_repaired_wk34_clone80_SOSIP_DS_3mut_2G","ab":"17b","v":0.05},{"im":"CAP256_repaired_wk34_clone80_SOSIP_DS_3mut_2G","ab":"17b+CD4","v":0.06},{"im":"CAP256_repaired_wk34_clone80_SOSIP_DS_3mut_2G","ab":"447-52D","v":2.23},{"im":"CAP256_repaired_wk34_clone80_SOSIP_DS_3mut_2G","ab":"CAP256-VRC26*PGT145/447-52D","v":0.54},
{"im":"CAP256_repaired_wk34_clone80_SOSIP_3mut","ab":"VRC26","v":1.14},{"im":"CAP256_repaired_wk34_clone80_SOSIP_3mut","ab":"PGT145","v":1.04},{"im":"CAP256_repaired_wk34_clone80_SOSIP_3mut","ab":"PGT151","v":0.09},{"im":"CAP256_repaired_wk34_clone80_SOSIP_3mut","ab":"35O22","v":2.66},{"im":"CAP256_repaired_wk34_clone80_SOSIP_3mut","ab":"PGT122","v":2.07},{"im":"CAP256_repaired_wk34_clone80_SOSIP_3mut","ab":"VRC01","v":3.07},{"im":"CAP256_repaired_wk34_clone80_SOSIP_3mut","ab":"F105","v":0.20},{"im":"CAP256_repaired_wk34_clone80_SOSIP_3mut","ab":"17b","v":0.29},{"im":"CAP256_repaired_wk34_clone80_SOSIP_3mut","ab":"17b+CD4","v":2.16},{"im":"CAP256_repaired_wk34_clone80_SOSIP_3mut","ab":"447-52D","v":2.42},{"im":"CAP256_repaired_wk34_clone80_SOSIP_3mut","ab":"CAP256-VRC26*PGT145/447-52D","v":0.49},
{"im":"CAP256_repaired_wk34_clone80_SOSIP_DS","ab":"VRC26","v":1.08},{"im":"CAP256_repaired_wk34_clone80_SOSIP_DS","ab":"PGT145","v":1.14},{"im":"CAP256_repaired_wk34_clone80_SOSIP_DS","ab":"PGT151","v":0.09},{"im":"CAP256_repaired_wk34_clone80_SOSIP_DS","ab":"35O22","v":2.10},{"im":"CAP256_repaired_wk34_clone80_SOSIP_DS","ab":"PGT122","v":1.93},{"im":"CAP256_repaired_wk34_clone80_SOSIP_DS","ab":"VRC01","v":1.88},{"im":"CAP256_repaired_wk34_clone80_SOSIP_DS","ab":"F105","v":0.45},{"im":"CAP256_repaired_wk34_clone80_SOSIP_DS","ab":"17b","v":0.05},{"im":"CAP256_repaired_wk34_clone80_SOSIP_DS","ab":"17b+CD4","v":0.07},{"im":"CAP256_repaired_wk34_clone80_SOSIP_DS","ab":"447-52D","v":2.53},{"im":"CAP256_repaired_wk34_clone80_SOSIP_DS","ab":"CAP256-VRC26*PGT145/447-52D","v":0.49},
{"im":"CAP256_repaired_wk34_clone80_SOSIP_4mut","ab":"VRC26","v":1.14},{"im":"CAP256_repaired_wk34_clone80_SOSIP_4mut","ab":"PGT145","v":0.97},{"im":"CAP256_repaired_wk34_clone80_SOSIP_4mut","ab":"PGT151","v":0.09},{"im":"CAP256_repaired_wk34_clone80_SOSIP_4mut","ab":"35O22","v":2.41},{"im":"CAP256_repaired_wk34_clone80_SOSIP_4mut","ab":"PGT122","v":2.12},{"im":"CAP256_repaired_wk34_clone80_SOSIP_4mut","ab":"VRC01","v":2.70},{"im":"CAP256_repaired_wk34_clone80_SOSIP_4mut","ab":"F105","v":0.58},{"im":"CAP256_repaired_wk34_clone80_SOSIP_4mut","ab":"17b","v":2.40},{"im":"CAP256_repaired_wk34_clone80_SOSIP_4mut","ab":"17b+CD4","v":3.16},{"im":"CAP256_repaired_wk34_clone80_SOSIP_4mut","ab":"447-52D","v":2.53},{"im":"CAP256_repaired_wk34_clone80_SOSIP_4mut","ab":"CAP256-VRC26*PGT145/447-52D","v":0.44},
{"im":"CAP256_repaired_wk34_clone80_SOSIP_3mut_2G","ab":"VRC26","v":1.47},{"im":"CAP256_repaired_wk34_clone80_SOSIP_3mut_2G","ab":"PGT145","v":0.61},{"im":"CAP256_repaired_wk34_clone80_SOSIP_3mut_2G","ab":"PGT151","v":0.13},{"im":"CAP256_repaired_wk34_clone80_SOSIP_3mut_2G","ab":"35O22","v":2.97},{"im":"CAP256_repaired_wk34_clone80_SOSIP_3mut_2G","ab":"PGT122","v":2.05},{"im":"CAP256_repaired_wk34_clone80_SOSIP_3mut_2G","ab":"VRC01","v":2.90},{"im":"CAP256_repaired_wk34_clone80_SOSIP_3mut_2G","ab":"F105","v":0.17},{"im":"CAP256_repaired_wk34_clone80_SOSIP_3mut_2G","ab":"17b","v":0.20},{"im":"CAP256_repaired_wk34_clone80_SOSIP_3mut_2G","ab":"17b+CD4","v":1.69},{"im":"CAP256_repaired_wk34_clone80_SOSIP_3mut_2G","ab":"447-52D","v":2.48},{"im":"CAP256_repaired_wk34_clone80_SOSIP_3mut_2G","ab":"CAP256-VRC26*PGT145/447-52D","v":0.36},
{"im":"CAP256_repaired_wk34_clone80_SOSIP_4mut_2G","ab":"VRC26","v":1.17},{"im":"CAP256_repaired_wk34_clone80_SOSIP_4mut_2G","ab":"PGT145","v":0.73},{"im":"CAP256_repaired_wk34_clone80_SOSIP_4mut_2G","ab":"PGT151","v":0.09},{"im":"CAP256_repaired_wk34_clone80_SOSIP_4mut_2G","ab":"35O22","v":3.01},{"im":"CAP256_repaired_wk34_clone80_SOSIP_4mut_2G","ab":"PGT122","v":2.41},{"im":"CAP256_repaired_wk34_clone80_SOSIP_4mut_2G","ab":"VRC01","v":2.90},{"im":"CAP256_repaired_wk34_clone80_SOSIP_4mut_2G","ab":"F105","v":0.35},{"im":"CAP256_repaired_wk34_clone80_SOSIP_4mut_2G","ab":"17b","v":2.25},{"im":"CAP256_repaired_wk34_clone80_SOSIP_4mut_2G","ab":"17b+CD4","v":3.44},{"im":"CAP256_repaired_wk34_clone80_SOSIP_4mut_2G","ab":"447-52D","v":2.54},{"im":"CAP256_repaired_wk34_clone80_SOSIP_4mut_2G","ab":"CAP256-VRC26*PGT145/447-52D","v":0.34},
{"im":"CAP256_repaired_wk34_clone80_SOSIP","ab":"VRC26","v":0.92},{"im":"CAP256_repaired_wk34_clone80_SOSIP","ab":"PGT145","v":0.80},{"im":"CAP256_repaired_wk34_clone80_SOSIP","ab":"PGT151","v":0.09},{"im":"CAP256_repaired_wk34_clone80_SOSIP","ab":"35O22","v":2.00},{"im":"CAP256_repaired_wk34_clone80_SOSIP","ab":"PGT122","v":2.18},{"im":"CAP256_repaired_wk34_clone80_SOSIP","ab":"VRC01","v":2.46},{"im":"CAP256_repaired_wk34_clone80_SOSIP","ab":"F105","v":0.73},{"im":"CAP256_repaired_wk34_clone80_SOSIP","ab":"17b","v":2.42},{"im":"CAP256_repaired_wk34_clone80_SOSIP","ab":"17b+CD4","v":2.89},{"im":"CAP256_repaired_wk34_clone80_SOSIP","ab":"447-52D","v":2.92},{"im":"CAP256_repaired_wk34_clone80_SOSIP","ab":"CAP256-VRC26*PGT145/447-52D","v":0.25},
{"im":"CAP256_repaired_wk34_clone80_SOSIP_2G","ab":"VRC26","v":1.03},{"im":"CAP256_repaired_wk34_clone80_SOSIP_2G","ab":"PGT145","v":0.62},{"im":"CAP256_repaired_wk34_clone80_SOSIP_2G","ab":"PGT151","v":0.10},{"im":"CAP256_repaired_wk34_clone80_SOSIP_2G","ab":"35O22","v":2.74},{"im":"CAP256_repaired_wk34_clone80_SOSIP_2G","ab":"PGT122","v":1.60},{"im":"CAP256_repaired_wk34_clone80_SOSIP_2G","ab":"VRC01","v":2.76},{"im":"CAP256_repaired_wk34_clone80_SOSIP_2G","ab":"F105","v":0.66},{"im":"CAP256_repaired_wk34_clone80_SOSIP_2G","ab":"17b","v":2.78},{"im":"CAP256_repaired_wk34_clone80_SOSIP_2G","ab":"17b+CD4","v":3.42},{"im":"CAP256_repaired_wk34_clone80_SOSIP_2G","ab":"447-52D","v":3.08},{"im":"CAP256_repaired_wk34_clone80_SOSIP_2G","ab":"CAP256-VRC26*PGT145/447-52D","v":0.21}
]
},
"vconcat": [
{"hconcat": [
 {"width": 217, "height": 240, "view": {"stroke": null},
  "title": {"text": "CH505 T/F variants", "anchor": "start", "dx": 27, "offset": -3, "fontSize": 13, "fontWeight": "normal", "baseline": "alphabetic", "color": "#111111"},
  "layer": [
   {"data": {"name": "A"}, "transform": [{"aggregate": [{"op": "count", "as": "n"}], "groupby": ["im"]}],
    "mark": {"type": "rule", "color": "#dedede", "strokeWidth": 0.7},
    "encoding": {"y": {"field": "im", "type": "nominal", "bandPosition": 0, "axis": null,
     "scale": {"type": "band", "paddingInner": 0, "paddingOuter": 0, "domain": ["grp","hdr","CH505_T/F_repaired_sosip_3mut_7mut_2G","CH505_T/F_repaired_sosip_3mut_7mut","CH505_T/F_repaired_sosip_4mut_7mut_2G","CH505_T/F_repaired_sosip_DS_3mut_7mut","CH505_T/F_repaired_sosip_DS_7mut_2G","CH505_T/F_repaired_sosip_DS_4mut_7mut","CH505_T/F_repaired_sosip_4mut_7mut","CH505_T/F_repaired_sosip_DS_3mut_2G","CH505_T/F_repaired_sosip_DS_4mut_2G","CH505_T/F_repaired_sosip_DS_3mut","CH505_T/F_repaired_sosip_7mut_2G","CH505_T/F_repaired_sosip_3mut_2G","CH505_T/F_repaired_sosip_DS_7mut","CH505_T/F_repaired_sosip_DS_4mut","CH505_T/F_repaired_sosip_DS_2G","CH505_T/F_repaired_sosip_7mut","CH505_T/F_repaired_sosip_3mut","CH505_T/F_repaired_sosip","CH505_T/F_repaired_sosip_4mut_2G","CH505_T/F_repaired_sosip_DS","CH505_T/F_repaired_sosip_4mut","CH505_T/F_repaired_sosip_2G"]}}}},
   {"data": {"name": "A"}, "transform": [{"aggregate": [{"op": "count", "as": "n"}], "groupby": ["im"]}],
    "mark": {"type": "text", "align": "left", "dx": 3, "fontSize": 7.2, "color": "#222222"},
    "encoding": {"x": {"datum": 0, "type": "quantitative", "scale": {"domain": [0, 1]}, "axis": null}, "y": {"field": "im", "type": "nominal", "axis": null}, "text": {"field": "im"}}},
   {"data": {"values": [{"t": "Immunogen"}]}, "mark": {"type": "text", "align": "left", "dx": 3, "fontSize": 7.6, "fontWeight": "bold", "color": "#111111"},
    "encoding": {"x": {"datum": 0, "type": "quantitative", "axis": null}, "y": {"datum": "hdr", "type": "nominal", "axis": null}, "text": {"field": "t"}}},
   {"data": {"values": [{}]}, "mark": {"type": "rule", "color": "#333333"}, "encoding": {"y": {"datum": "grp", "type": "nominal", "bandPosition": 0, "axis": null}}},
   {"data": {"values": [{}]}, "mark": {"type": "rule", "color": "#333333"}, "encoding": {"y": {"datum": "hdr", "type": "nominal", "bandPosition": 1, "axis": null}}}
  ]},
 {"width": 260, "height": 240,
  "title": {"text": "A", "anchor": "start", "dx": -213, "offset": -12, "fontSize": 21, "fontWeight": "normal", "baseline": "alphabetic", "color": "#111111"},
  "layer": [
   {"data": {"name": "A"}, "transform": [{"filter": {"field": "ab", "oneOf": ["VRC26","PGT145","PGT151","35O22","PGT122","VRC01"]}}],
    "mark": {"type": "rect"},
    "encoding": {
     "x": {"field": "ab", "type": "nominal", "scale": {"type": "band", "paddingInner": 0, "paddingOuter": 0, "domain": ["VRC26","PGT145","PGT151","35O22","PGT122","VRC01"]}, "axis": null},
     "y": {"field": "im", "type": "nominal", "axis": null, "scale": {"type": "band", "paddingInner": 0, "paddingOuter": 0, "domain": ["grp","hdr","CH505_T/F_repaired_sosip_3mut_7mut_2G","CH505_T/F_repaired_sosip_3mut_7mut","CH505_T/F_repaired_sosip_4mut_7mut_2G","CH505_T/F_repaired_sosip_DS_3mut_7mut","CH505_T/F_repaired_sosip_DS_7mut_2G","CH505_T/F_repaired_sosip_DS_4mut_7mut","CH505_T/F_repaired_sosip_4mut_7mut","CH505_T/F_repaired_sosip_DS_3mut_2G","CH505_T/F_repaired_sosip_DS_4mut_2G","CH505_T/F_repaired_sosip_DS_3mut","CH505_T/F_repaired_sosip_7mut_2G","CH505_T/F_repaired_sosip_3mut_2G","CH505_T/F_repaired_sosip_DS_7mut","CH505_T/F_repaired_sosip_DS_4mut","CH505_T/F_repaired_sosip_DS_2G","CH505_T/F_repaired_sosip_7mut","CH505_T/F_repaired_sosip_3mut","CH505_T/F_repaired_sosip","CH505_T/F_repaired_sosip_4mut_2G","CH505_T/F_repaired_sosip_DS","CH505_T/F_repaired_sosip_4mut","CH505_T/F_repaired_sosip_2G"]}},
     "color": {"field": "v", "type": "quantitative", "scale": {"type": "linear", "domain": [0, 2.8], "range": ["#ffffff", "#ff0000"], "interpolate": "rgb", "clamp": true, "zero": false, "nice": false},
       "legend": {"orient": "none", "legendX": 477, "legendY": 546, "direction": "horizontal", "gradientLength": 248, "gradientThickness": 10, "gradientStrokeColor": "#222222", "gradientStrokeWidth": 1, "title": null, "values": [0, 2.8], "labelFontSize": 11.5, "labelColor": "#111111", "labelOverlap": false, "labelExpr": "datum.value == 0 ? '0' : 'Max'",
         "encode": {"labels": {"update": {"align": {"signal": "datum.value == 0 ? 'right' : 'left'"}, "baseline": {"value": "middle"}, "dx": {"signal": "datum.value == 0 ? -8 : 10"}, "y": {"value": 5}}}}}}}},
   {"data": {"name": "A"}, "transform": [{"filter": {"field": "ab", "oneOf": ["VRC26","PGT145","PGT151","35O22","PGT122","VRC01"]}}],
    "mark": {"type": "text", "fontSize": 7, "color": "#222222"},
    "encoding": {"x": {"field": "ab", "type": "nominal", "axis": null}, "y": {"field": "im", "type": "nominal", "axis": null}, "text": {"field": "v", "type": "quantitative", "format": ".2f"}}},
   {"data": {"name": "A"}, "transform": [{"filter": {"field": "ab", "oneOf": ["VRC26","PGT145","PGT151","35O22","PGT122","VRC01"]}}, {"aggregate": [{"op": "count", "as": "n"}], "groupby": ["ab"]}],
    "mark": {"type": "text", "fontSize": 7.3, "fontWeight": "bold", "color": "#ee1c1c"},
    "encoding": {"x": {"field": "ab", "type": "nominal", "axis": null}, "y": {"datum": "hdr", "type": "nominal", "axis": null}, "text": {"field": "ab"}}},
   {"data": {"values": [{}]}, "mark": {"type": "text", "text": "NAb", "fontSize": 6.5, "fontWeight": "bold", "color": "#333333"},
    "encoding": {"x": {"datum": "PGT151", "type": "nominal", "bandPosition": 1, "axis": null}, "y": {"datum": "grp", "type": "nominal", "axis": null}}},
   {"data": {"values": [{}]}, "mark": {"type": "rule", "color": "#333333"}, "encoding": {"y": {"datum": "hdr", "type": "nominal", "bandPosition": 1, "axis": null}}}
  ]},
 {"width": 168, "height": 240,
  "layer": [
   {"data": {"values": [{}]}, "mark": {"type": "rect", "color": "#d9d9d9"}, "encoding": {"y": {"datum": "grp", "type": "nominal", "axis": null,
     "scale": {"type": "band", "paddingInner": 0, "paddingOuter": 0, "domain": ["grp","hdr","CH505_T/F_repaired_sosip_3mut_7mut_2G","CH505_T/F_repaired_sosip_3mut_7mut","CH505_T/F_repaired_sosip_4mut_7mut_2G","CH505_T/F_repaired_sosip_DS_3mut_7mut","CH505_T/F_repaired_sosip_DS_7mut_2G","CH505_T/F_repaired_sosip_DS_4mut_7mut","CH505_T/F_repaired_sosip_4mut_7mut","CH505_T/F_repaired_sosip_DS_3mut_2G","CH505_T/F_repaired_sosip_DS_4mut_2G","CH505_T/F_repaired_sosip_DS_3mut","CH505_T/F_repaired_sosip_7mut_2G","CH505_T/F_repaired_sosip_3mut_2G","CH505_T/F_repaired_sosip_DS_7mut","CH505_T/F_repaired_sosip_DS_4mut","CH505_T/F_repaired_sosip_DS_2G","CH505_T/F_repaired_sosip_7mut","CH505_T/F_repaired_sosip_3mut","CH505_T/F_repaired_sosip","CH505_T/F_repaired_sosip_4mut_2G","CH505_T/F_repaired_sosip_DS","CH505_T/F_repaired_sosip_4mut","CH505_T/F_repaired_sosip_2G"]}}}},
   {"data": {"name": "A"}, "transform": [{"filter": {"field": "ab", "oneOf": ["F105","17b","17b+CD4","447-52D"]}}],
    "mark": {"type": "rect"},
    "encoding": {
     "x": {"field": "ab", "type": "nominal", "scale": {"type": "band", "paddingInner": 0, "paddingOuter": 0, "domain": ["F105","17b","17b+CD4","447-52D"]}, "axis": null},
     "y": {"field": "im", "type": "nominal", "axis": null},
     "color": {"field": "v", "type": "quantitative", "scale": {"type": "linear", "domain": [0, 2.8], "range": ["#ffffff", "#ff0000"], "interpolate": "rgb", "clamp": true, "zero": false, "nice": false}}}},
   {"data": {"name": "A"}, "transform": [{"filter": {"field": "ab", "oneOf": ["F105","17b","17b+CD4","447-52D"]}}],
    "mark": {"type": "text", "fontSize": 7, "color": "#222222"},
    "encoding": {"x": {"field": "ab", "type": "nominal", "axis": null}, "y": {"field": "im", "type": "nominal", "axis": null}, "text": {"field": "v", "type": "quantitative", "format": ".2f"}}},
   {"data": {"name": "A"}, "transform": [{"filter": {"field": "ab", "oneOf": ["F105","17b","17b+CD4","447-52D"]}}, {"aggregate": [{"op": "count", "as": "n"}], "groupby": ["ab"]}],
    "mark": {"type": "text", "fontSize": 7.3, "fontWeight": "bold", "color": "#ee1c1c"},
    "encoding": {"x": {"field": "ab", "type": "nominal", "axis": null}, "y": {"datum": "hdr", "type": "nominal", "axis": null}, "text": {"field": "ab"}}},
   {"data": {"values": [{}]}, "mark": {"type": "text", "text": "Non-NAb", "fontSize": 6.5, "fontWeight": "bold", "color": "#333333"},
    "encoding": {"x": {"datum": "17b", "type": "nominal", "bandPosition": 1, "axis": null}, "y": {"datum": "grp", "type": "nominal", "axis": null}}},
   {"data": {"values": [{}]}, "mark": {"type": "rule", "color": "#333333"}, "encoding": {"y": {"datum": "hdr", "type": "nominal", "bandPosition": 1, "axis": null}}}
  ]},
 {"width": 112, "height": 240,
  "layer": [
   {"data": {"name": "A"}, "transform": [{"filter": {"field": "ab", "oneOf": ["CAP256-VRC26*PGT145/447-52D"]}}],
    "mark": {"type": "rect"},
    "encoding": {
     "x": {"field": "ab", "type": "nominal", "scale": {"type": "band", "paddingInner": 0, "paddingOuter": 0, "domain": ["CAP256-VRC26*PGT145/447-52D"]}, "axis": null},
     "y": {"field": "im", "type": "nominal", "axis": null, "scale": {"type": "band", "paddingInner": 0, "paddingOuter": 0, "domain": ["grp","hdr","CH505_T/F_repaired_sosip_3mut_7mut_2G","CH505_T/F_repaired_sosip_3mut_7mut","CH505_T/F_repaired_sosip_4mut_7mut_2G","CH505_T/F_repaired_sosip_DS_3mut_7mut","CH505_T/F_repaired_sosip_DS_7mut_2G","CH505_T/F_repaired_sosip_DS_4mut_7mut","CH505_T/F_repaired_sosip_4mut_7mut","CH505_T/F_repaired_sosip_DS_3mut_2G","CH505_T/F_repaired_sosip_DS_4mut_2G","CH505_T/F_repaired_sosip_DS_3mut","CH505_T/F_repaired_sosip_7mut_2G","CH505_T/F_repaired_sosip_3mut_2G","CH505_T/F_repaired_sosip_DS_7mut","CH505_T/F_repaired_sosip_DS_4mut","CH505_T/F_repaired_sosip_DS_2G","CH505_T/F_repaired_sosip_7mut","CH505_T/F_repaired_sosip_3mut","CH505_T/F_repaired_sosip","CH505_T/F_repaired_sosip_4mut_2G","CH505_T/F_repaired_sosip_DS","CH505_T/F_repaired_sosip_4mut","CH505_T/F_repaired_sosip_2G"]}},
     "color": {"field": "v", "type": "quantitative", "scale": {"type": "linear", "domain": [0, 2.8], "range": ["#ffffff", "#ff0000"], "interpolate": "rgb", "clamp": true, "zero": false, "nice": false}}}},
   {"data": {"name": "A"}, "transform": [{"filter": {"field": "ab", "oneOf": ["CAP256-VRC26*PGT145/447-52D"]}}],
    "mark": {"type": "text", "fontSize": 7, "color": "#222222"},
    "encoding": {"x": {"field": "ab", "type": "nominal", "axis": null}, "y": {"field": "im", "type": "nominal", "axis": null}, "text": {"field": "v", "type": "quantitative", "format": ".2f"}}},
   {"data": {"name": "A"}, "transform": [{"filter": {"field": "ab", "oneOf": ["CAP256-VRC26*PGT145/447-52D"]}}, {"aggregate": [{"op": "count", "as": "n"}], "groupby": ["ab"]}],
    "mark": {"type": "text", "fontSize": 6.9, "fontWeight": "bold", "color": "#ee1c1c"},
    "encoding": {"x": {"field": "ab", "type": "nominal", "axis": null}, "y": {"datum": "hdr", "type": "nominal", "axis": null}, "text": {"field": "ab"}}},
   {"data": {"values": [{}]}, "mark": {"type": "rule", "color": "#333333"}, "encoding": {"y": {"datum": "hdr", "type": "nominal", "bandPosition": 1, "axis": null}}}
  ]}
 ], "spacing": 0, "bounds": "flush"},
{"hconcat": [
 {"width": 217, "height": 240, "view": {"stroke": null},
  "title": {"text": "CAP256.wk34.c80 variants", "anchor": "start", "dx": 27, "offset": -3, "fontSize": 13, "fontWeight": "normal", "baseline": "alphabetic", "color": "#111111"},
  "layer": [
   {"data": {"name": "B"}, "transform": [{"aggregate": [{"op": "count", "as": "n"}], "groupby": ["im"]}],
    "mark": {"type": "rule", "color": "#dedede", "strokeWidth": 0.7},
    "encoding": {"y": {"field": "im", "type": "nominal", "bandPosition": 0, "axis": null,
     "scale": {"type": "band", "paddingInner": 0, "paddingOuter": 0, "domain": ["grp","hdr","CAP256_repaired_wk34_clone80_SOSIP_3mut_7mut_2G","CAP256_repaired_wk34_clone80_SOSIP_4mut_7mut_2G","CAP256_repaired_wk34_clone80_SOSIP_7mut_2G","CAP256_repaired_wk34_clone80_SOSIP_3mut_7mut","CAP256_repaired_wk34_clone80_SOSIP_DS_3mut_7mut","CAP256_repaired_wk34_clone80_SOSIP_DS_7mut","CAP256_repaired_wk34_clone80_SOSIP_4mut_7mut","CAP256_repaired_wk34_clone80_SOSIP_DS_4mut_7mut","CAP256_repaired_wk34_clone80_SOSIP_DS_7mut_2G","CAP256_repaired_wk34_clone80_SOSIP_DS_3mut","CAP256_repaired_wk34_clone80_SOSIP_7mut","CAP256_repaired_wk34_clone80_SOSIP_DS_2G","CAP256_repaired_wk34_clone80_SOSIP_DS_4mut","CAP256_repaired_wk34_clone80_SOSIP_DS_4mut_2G","CAP256_repaired_wk34_clone80_SOSIP_DS_3mut_2G","CAP256_repaired_wk34_clone80_SOSIP_3mut","CAP256_repaired_wk34_clone80_SOSIP_DS","CAP256_repaired_wk34_clone80_SOSIP_4mut","CAP256_repaired_wk34_clone80_SOSIP_3mut_2G","CAP256_repaired_wk34_clone80_SOSIP_4mut_2G","CAP256_repaired_wk34_clone80_SOSIP","CAP256_repaired_wk34_clone80_SOSIP_2G"]}}}},
   {"data": {"name": "B"}, "transform": [{"aggregate": [{"op": "count", "as": "n"}], "groupby": ["im"]}],
    "mark": {"type": "text", "align": "left", "dx": 3, "fontSize": 7.2, "color": "#222222"},
    "encoding": {"x": {"datum": 0, "type": "quantitative", "scale": {"domain": [0, 1]}, "axis": null}, "y": {"field": "im", "type": "nominal", "axis": null}, "text": {"field": "im"}}},
   {"data": {"values": [{"t": "Immunogen"}]}, "mark": {"type": "text", "align": "left", "dx": 3, "fontSize": 7.6, "fontWeight": "bold", "color": "#111111"},
    "encoding": {"x": {"datum": 0, "type": "quantitative", "axis": null}, "y": {"datum": "hdr", "type": "nominal", "axis": null}, "text": {"field": "t"}}},
   {"data": {"values": [{}]}, "mark": {"type": "rule", "color": "#333333"}, "encoding": {"y": {"datum": "grp", "type": "nominal", "bandPosition": 0, "axis": null}}},
   {"data": {"values": [{}]}, "mark": {"type": "rule", "color": "#333333"}, "encoding": {"y": {"datum": "hdr", "type": "nominal", "bandPosition": 1, "axis": null}}}
  ]},
 {"width": 260, "height": 240,
  "title": {"text": "B", "anchor": "start", "dx": -213, "offset": -12, "fontSize": 21, "fontWeight": "normal", "baseline": "alphabetic", "color": "#111111"},
  "layer": [
   {"data": {"name": "B"}, "transform": [{"filter": {"field": "ab", "oneOf": ["VRC26","PGT145","PGT151","35O22","PGT122","VRC01"]}}],
    "mark": {"type": "rect"},
    "encoding": {
     "x": {"field": "ab", "type": "nominal", "scale": {"type": "band", "paddingInner": 0, "paddingOuter": 0, "domain": ["VRC26","PGT145","PGT151","35O22","PGT122","VRC01"]}, "axis": null},
     "y": {"field": "im", "type": "nominal", "axis": null, "scale": {"type": "band", "paddingInner": 0, "paddingOuter": 0, "domain": ["grp","hdr","CAP256_repaired_wk34_clone80_SOSIP_3mut_7mut_2G","CAP256_repaired_wk34_clone80_SOSIP_4mut_7mut_2G","CAP256_repaired_wk34_clone80_SOSIP_7mut_2G","CAP256_repaired_wk34_clone80_SOSIP_3mut_7mut","CAP256_repaired_wk34_clone80_SOSIP_DS_3mut_7mut","CAP256_repaired_wk34_clone80_SOSIP_DS_7mut","CAP256_repaired_wk34_clone80_SOSIP_4mut_7mut","CAP256_repaired_wk34_clone80_SOSIP_DS_4mut_7mut","CAP256_repaired_wk34_clone80_SOSIP_DS_7mut_2G","CAP256_repaired_wk34_clone80_SOSIP_DS_3mut","CAP256_repaired_wk34_clone80_SOSIP_7mut","CAP256_repaired_wk34_clone80_SOSIP_DS_2G","CAP256_repaired_wk34_clone80_SOSIP_DS_4mut","CAP256_repaired_wk34_clone80_SOSIP_DS_4mut_2G","CAP256_repaired_wk34_clone80_SOSIP_DS_3mut_2G","CAP256_repaired_wk34_clone80_SOSIP_3mut","CAP256_repaired_wk34_clone80_SOSIP_DS","CAP256_repaired_wk34_clone80_SOSIP_4mut","CAP256_repaired_wk34_clone80_SOSIP_3mut_2G","CAP256_repaired_wk34_clone80_SOSIP_4mut_2G","CAP256_repaired_wk34_clone80_SOSIP","CAP256_repaired_wk34_clone80_SOSIP_2G"]}},
     "color": {"field": "v", "type": "quantitative", "scale": {"type": "linear", "domain": [0, 2.8], "range": ["#ffffff", "#ff0000"], "interpolate": "rgb", "clamp": true, "zero": false, "nice": false}}}},
   {"data": {"name": "B"}, "transform": [{"filter": {"field": "ab", "oneOf": ["VRC26","PGT145","PGT151","35O22","PGT122","VRC01"]}}],
    "mark": {"type": "text", "fontSize": 7, "color": "#222222"},
    "encoding": {"x": {"field": "ab", "type": "nominal", "axis": null}, "y": {"field": "im", "type": "nominal", "axis": null}, "text": {"field": "v", "type": "quantitative", "format": ".2f"}}},
   {"data": {"name": "B"}, "transform": [{"filter": {"field": "ab", "oneOf": ["VRC26","PGT145","PGT151","35O22","PGT122","VRC01"]}}, {"aggregate": [{"op": "count", "as": "n"}], "groupby": ["ab"]}],
    "mark": {"type": "text", "fontSize": 7.3, "fontWeight": "bold", "color": "#ee1c1c"},
    "encoding": {"x": {"field": "ab", "type": "nominal", "axis": null}, "y": {"datum": "hdr", "type": "nominal", "axis": null}, "text": {"field": "ab"}}},
   {"data": {"values": [{}]}, "mark": {"type": "text", "text": "NAb", "fontSize": 6.5, "fontWeight": "bold", "color": "#333333"},
    "encoding": {"x": {"datum": "PGT151", "type": "nominal", "bandPosition": 1, "axis": null}, "y": {"datum": "grp", "type": "nominal", "axis": null}}},
   {"data": {"values": [{}]}, "mark": {"type": "rule", "color": "#333333"}, "encoding": {"y": {"datum": "hdr", "type": "nominal", "bandPosition": 1, "axis": null}}}
  ]},
 {"width": 168, "height": 240,
  "layer": [
   {"data": {"values": [{}]}, "mark": {"type": "rect", "color": "#d9d9d9"}, "encoding": {"y": {"datum": "grp", "type": "nominal", "axis": null,
     "scale": {"type": "band", "paddingInner": 0, "paddingOuter": 0, "domain": ["grp","hdr","CAP256_repaired_wk34_clone80_SOSIP_3mut_7mut_2G","CAP256_repaired_wk34_clone80_SOSIP_4mut_7mut_2G","CAP256_repaired_wk34_clone80_SOSIP_7mut_2G","CAP256_repaired_wk34_clone80_SOSIP_3mut_7mut","CAP256_repaired_wk34_clone80_SOSIP_DS_3mut_7mut","CAP256_repaired_wk34_clone80_SOSIP_DS_7mut","CAP256_repaired_wk34_clone80_SOSIP_4mut_7mut","CAP256_repaired_wk34_clone80_SOSIP_DS_4mut_7mut","CAP256_repaired_wk34_clone80_SOSIP_DS_7mut_2G","CAP256_repaired_wk34_clone80_SOSIP_DS_3mut","CAP256_repaired_wk34_clone80_SOSIP_7mut","CAP256_repaired_wk34_clone80_SOSIP_DS_2G","CAP256_repaired_wk34_clone80_SOSIP_DS_4mut","CAP256_repaired_wk34_clone80_SOSIP_DS_4mut_2G","CAP256_repaired_wk34_clone80_SOSIP_DS_3mut_2G","CAP256_repaired_wk34_clone80_SOSIP_3mut","CAP256_repaired_wk34_clone80_SOSIP_DS","CAP256_repaired_wk34_clone80_SOSIP_4mut","CAP256_repaired_wk34_clone80_SOSIP_3mut_2G","CAP256_repaired_wk34_clone80_SOSIP_4mut_2G","CAP256_repaired_wk34_clone80_SOSIP","CAP256_repaired_wk34_clone80_SOSIP_2G"]}}}},
   {"data": {"name": "B"}, "transform": [{"filter": {"field": "ab", "oneOf": ["F105","17b","17b+CD4","447-52D"]}}],
    "mark": {"type": "rect"},
    "encoding": {
     "x": {"field": "ab", "type": "nominal", "scale": {"type": "band", "paddingInner": 0, "paddingOuter": 0, "domain": ["F105","17b","17b+CD4","447-52D"]}, "axis": null},
     "y": {"field": "im", "type": "nominal", "axis": null},
     "color": {"field": "v", "type": "quantitative", "scale": {"type": "linear", "domain": [0, 2.8], "range": ["#ffffff", "#ff0000"], "interpolate": "rgb", "clamp": true, "zero": false, "nice": false}}}},
   {"data": {"name": "B"}, "transform": [{"filter": {"field": "ab", "oneOf": ["F105","17b","17b+CD4","447-52D"]}}],
    "mark": {"type": "text", "fontSize": 7, "color": "#222222"},
    "encoding": {"x": {"field": "ab", "type": "nominal", "axis": null}, "y": {"field": "im", "type": "nominal", "axis": null}, "text": {"field": "v", "type": "quantitative", "format": ".2f"}}},
   {"data": {"name": "B"}, "transform": [{"filter": {"field": "ab", "oneOf": ["F105","17b","17b+CD4","447-52D"]}}, {"aggregate": [{"op": "count", "as": "n"}], "groupby": ["ab"]}],
    "mark": {"type": "text", "fontSize": 7.3, "fontWeight": "bold", "color": "#ee1c1c"},
    "encoding": {"x": {"field": "ab", "type": "nominal", "axis": null}, "y": {"datum": "hdr", "type": "nominal", "axis": null}, "text": {"field": "ab"}}},
   {"data": {"values": [{}]}, "mark": {"type": "text", "text": "Non-NAb", "fontSize": 6.5, "fontWeight": "bold", "color": "#333333"},
    "encoding": {"x": {"datum": "17b", "type": "nominal", "bandPosition": 1, "axis": null}, "y": {"datum": "grp", "type": "nominal", "axis": null}}},
   {"data": {"values": [{}]}, "mark": {"type": "rule", "color": "#333333"}, "encoding": {"y": {"datum": "hdr", "type": "nominal", "bandPosition": 1, "axis": null}}}
  ]},
 {"width": 112, "height": 240,
  "layer": [
   {"data": {"name": "B"}, "transform": [{"filter": {"field": "ab", "oneOf": ["CAP256-VRC26*PGT145/447-52D"]}}],
    "mark": {"type": "rect"},
    "encoding": {
     "x": {"field": "ab", "type": "nominal", "scale": {"type": "band", "paddingInner": 0, "paddingOuter": 0, "domain": ["CAP256-VRC26*PGT145/447-52D"]}, "axis": null},
     "y": {"field": "im", "type": "nominal", "axis": null, "scale": {"type": "band", "paddingInner": 0, "paddingOuter": 0, "domain": ["grp","hdr","CAP256_repaired_wk34_clone80_SOSIP_3mut_7mut_2G","CAP256_repaired_wk34_clone80_SOSIP_4mut_7mut_2G","CAP256_repaired_wk34_clone80_SOSIP_7mut_2G","CAP256_repaired_wk34_clone80_SOSIP_3mut_7mut","CAP256_repaired_wk34_clone80_SOSIP_DS_3mut_7mut","CAP256_repaired_wk34_clone80_SOSIP_DS_7mut","CAP256_repaired_wk34_clone80_SOSIP_4mut_7mut","CAP256_repaired_wk34_clone80_SOSIP_DS_4mut_7mut","CAP256_repaired_wk34_clone80_SOSIP_DS_7mut_2G","CAP256_repaired_wk34_clone80_SOSIP_DS_3mut","CAP256_repaired_wk34_clone80_SOSIP_7mut","CAP256_repaired_wk34_clone80_SOSIP_DS_2G","CAP256_repaired_wk34_clone80_SOSIP_DS_4mut","CAP256_repaired_wk34_clone80_SOSIP_DS_4mut_2G","CAP256_repaired_wk34_clone80_SOSIP_DS_3mut_2G","CAP256_repaired_wk34_clone80_SOSIP_3mut","CAP256_repaired_wk34_clone80_SOSIP_DS","CAP256_repaired_wk34_clone80_SOSIP_4mut","CAP256_repaired_wk34_clone80_SOSIP_3mut_2G","CAP256_repaired_wk34_clone80_SOSIP_4mut_2G","CAP256_repaired_wk34_clone80_SOSIP","CAP256_repaired_wk34_clone80_SOSIP_2G"]}},
     "color": {"field": "v", "type": "quantitative", "scale": {"type": "linear", "domain": [0, 2.8], "range": ["#ffffff", "#ff0000"], "interpolate": "rgb", "clamp": true, "zero": false, "nice": false}}}},
   {"data": {"name": "B"}, "transform": [{"filter": {"field": "ab", "oneOf": ["CAP256-VRC26*PGT145/447-52D"]}}],
    "mark": {"type": "text", "fontSize": 7, "color": "#222222"},
    "encoding": {"x": {"field": "ab", "type": "nominal", "axis": null}, "y": {"field": "im", "type": "nominal", "axis": null}, "text": {"field": "v", "type": "quantitative", "format": ".2f"}}},
   {"data": {"name": "B"}, "transform": [{"filter": {"field": "ab", "oneOf": ["CAP256-VRC26*PGT145/447-52D"]}}, {"aggregate": [{"op": "count", "as": "n"}], "groupby": ["ab"]}],
    "mark": {"type": "text", "fontSize": 6.9, "fontWeight": "bold", "color": "#ee1c1c"},
    "encoding": {"x": {"field": "ab", "type": "nominal", "axis": null}, "y": {"datum": "hdr", "type": "nominal", "axis": null}, "text": {"field": "ab"}}},
   {"data": {"values": [{}]}, "mark": {"type": "rule", "color": "#333333"}, "encoding": {"y": {"datum": "hdr", "type": "nominal", "bandPosition": 1, "axis": null}}}
  ]}
 ], "spacing": 0, "bounds": "flush"}
]
}
